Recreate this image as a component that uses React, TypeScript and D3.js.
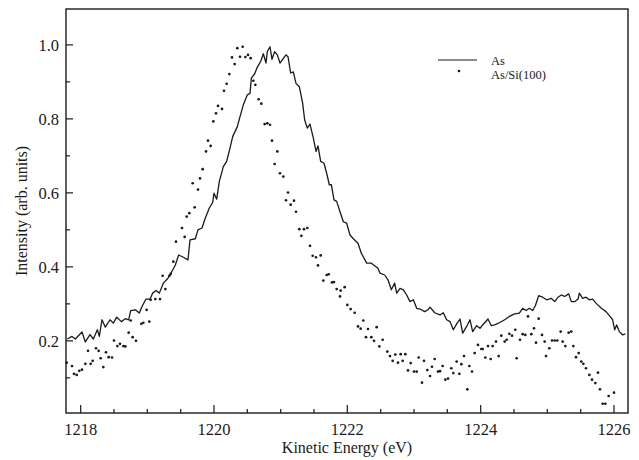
import * as d3 from 'd3'

// As (solid line): kinetic energy (eV) and intensity
const asEnergy = [
  1217.80, 1217.87, 1217.92, 1218.02, 1218.07, 1218.14, 1218.19, 1218.25, 1218.28, 1218.32,
  1218.37, 1218.44, 1218.49, 1218.54, 1218.61, 1218.67, 1218.72, 1218.75, 1218.82, 1218.88,
  1218.92, 1218.98, 1219.04, 1219.08, 1219.13, 1219.18, 1219.24, 1219.30, 1219.34, 1219.42,
  1219.47, 1219.54, 1219.61, 1219.64, 1219.72, 1219.76, 1219.82, 1219.87, 1219.93, 1219.98,
  1220.00, 1220.04, 1220.08, 1220.14, 1220.19, 1220.24, 1220.28, 1220.35, 1220.39, 1220.44,
  1220.50, 1220.54, 1220.56, 1220.61, 1220.65, 1220.70, 1220.74, 1220.78, 1220.80, 1220.84,
  1220.87, 1220.91, 1220.95, 1220.99, 1221.03, 1221.08, 1221.11, 1221.15, 1221.19, 1221.23,
  1221.28, 1221.33, 1221.36, 1221.40, 1221.44, 1221.49, 1221.53, 1221.56, 1221.60, 1221.65,
  1221.69, 1221.73, 1221.76, 1221.80, 1221.84, 1221.89, 1221.94, 1221.99, 1222.04, 1222.09,
  1222.16, 1222.21, 1222.29, 1222.36, 1222.46, 1222.49, 1222.56, 1222.61, 1222.66, 1222.71,
  1222.74, 1222.79, 1222.84, 1222.89, 1222.94, 1222.99, 1223.04, 1223.09, 1223.16, 1223.21,
  1223.24, 1223.31, 1223.39, 1223.44, 1223.49, 1223.54, 1223.59, 1223.64, 1223.69, 1223.73,
  1223.79, 1223.84, 1223.88, 1223.94, 1223.99, 1224.03, 1224.11, 1224.16, 1224.21, 1224.28,
  1224.36, 1224.43, 1224.51, 1224.58, 1224.63, 1224.68, 1224.73, 1224.78, 1224.82, 1224.87,
  1224.93, 1224.99, 1225.06, 1225.11, 1225.16, 1225.21, 1225.26, 1225.32, 1225.36, 1225.41,
  1225.46, 1225.48, 1225.53, 1225.58, 1225.63, 1225.68, 1225.73, 1225.81, 1225.88, 1225.94,
  1225.98, 1226.01, 1226.04, 1226.08, 1226.13, 1226.17,
]
const asIntensity = [
  0.205, 0.212, 0.205, 0.224, 0.197, 0.217, 0.205, 0.230, 0.212, 0.257,
  0.237, 0.257, 0.248, 0.264, 0.252, 0.260, 0.257, 0.282, 0.284, 0.275,
  0.293, 0.313, 0.313, 0.329, 0.336, 0.329, 0.356, 0.367, 0.378, 0.405,
  0.432, 0.426, 0.419, 0.473, 0.476, 0.500, 0.505, 0.532, 0.559, 0.574,
  0.599, 0.583, 0.631, 0.671, 0.685, 0.721, 0.752, 0.779, 0.806, 0.838,
  0.865, 0.869, 0.910, 0.922, 0.940, 0.955, 0.976, 0.951, 0.982, 0.995,
  0.961, 0.982, 0.973, 0.951, 0.961, 0.973, 0.968, 0.924, 0.927, 0.896,
  0.887, 0.842, 0.797, 0.775, 0.786, 0.748, 0.712, 0.727, 0.685, 0.680,
  0.653, 0.622, 0.622, 0.581, 0.577, 0.549, 0.522, 0.518, 0.486, 0.476,
  0.464, 0.437, 0.410, 0.410, 0.396, 0.383, 0.378, 0.365, 0.338, 0.356,
  0.329, 0.342, 0.338, 0.324, 0.306, 0.311, 0.288, 0.286, 0.279, 0.284,
  0.291, 0.276, 0.270, 0.276, 0.257, 0.252, 0.230, 0.246, 0.259, 0.221,
  0.239, 0.257, 0.225, 0.241, 0.234, 0.243, 0.259, 0.241, 0.243, 0.249,
  0.257, 0.266, 0.273, 0.275, 0.288, 0.282, 0.288, 0.282, 0.295, 0.322,
  0.318, 0.311, 0.315, 0.306, 0.318, 0.324, 0.320, 0.327, 0.306, 0.306,
  0.313, 0.329, 0.315, 0.318, 0.311, 0.313, 0.302, 0.288, 0.279, 0.266,
  0.257, 0.230, 0.243, 0.225, 0.216, 0.219,
]

// As/Si(100) (dots)
const asSiEnergy = [
  1217.79, 1217.87, 1217.90, 1217.94, 1217.98, 1218.02, 1218.07, 1218.11, 1218.15, 1218.18,
  1218.23, 1218.27, 1218.30, 1218.34, 1218.38, 1218.42, 1218.47, 1218.50, 1218.55, 1218.59,
  1218.64, 1218.67, 1218.72, 1218.75, 1218.78, 1218.83, 1218.91, 1218.94, 1218.99, 1219.03,
  1219.05, 1219.12, 1219.19, 1219.23, 1219.27, 1219.33, 1219.35, 1219.39, 1219.43, 1219.52,
  1219.56, 1219.59, 1219.63, 1219.68, 1219.71, 1219.76, 1219.79, 1219.83, 1219.88, 1219.91,
  1219.95, 1219.99, 1220.03, 1220.06, 1220.12, 1220.15, 1220.19, 1220.23, 1220.27, 1220.31,
  1220.35, 1220.39, 1220.43, 1220.47, 1220.51, 1220.55, 1220.59, 1220.62, 1220.67, 1220.71,
  1220.76, 1220.80, 1220.84, 1220.87, 1220.91, 1220.95, 1220.99, 1221.04, 1221.08, 1221.11,
  1221.15, 1221.20, 1221.23, 1221.28, 1221.31, 1221.35, 1221.40, 1221.44, 1221.48, 1221.53,
  1221.56, 1221.60, 1221.64, 1221.69, 1221.72, 1221.77, 1221.80, 1221.84, 1221.89, 1221.90,
  1221.96, 1222.00, 1222.05, 1222.11, 1222.16, 1222.20, 1222.24, 1222.28, 1222.31, 1222.36,
  1222.40, 1222.44, 1222.48, 1222.53, 1222.60, 1222.64, 1222.68, 1222.72, 1222.76, 1222.80,
  1222.83, 1222.87, 1222.91, 1222.95, 1223.00, 1223.04, 1223.07, 1223.12, 1223.15, 1223.20,
  1223.24, 1223.27, 1223.31, 1223.36, 1223.39, 1223.43, 1223.47, 1223.51, 1223.56, 1223.59,
  1223.64, 1223.68, 1223.71, 1223.75, 1223.80, 1223.83, 1223.87, 1223.91, 1223.96, 1224.01,
  1224.03, 1224.07, 1224.11, 1224.15, 1224.18, 1224.23, 1224.27, 1224.31, 1224.36, 1224.39,
  1224.43, 1224.47, 1224.52, 1224.54, 1224.59, 1224.63, 1224.67, 1224.71, 1224.76, 1224.80,
  1224.83, 1224.87, 1224.92, 1224.96, 1224.98, 1225.03, 1225.07, 1225.11, 1225.15, 1225.20,
  1225.23, 1225.27, 1225.32, 1225.36, 1225.39, 1225.43, 1225.47, 1225.51, 1225.54, 1225.58,
  1225.63, 1225.67, 1225.72, 1225.76, 1225.79, 1225.83, 1225.87, 1225.92, 1226.00,
]
const asSiIntensity = [
  0.141, 0.132, 0.111, 0.108, 0.119, 0.122, 0.138, 0.173, 0.138, 0.146,
  0.180, 0.173, 0.153, 0.129, 0.169, 0.156, 0.155, 0.201, 0.186, 0.192,
  0.186, 0.185, 0.222, 0.255, 0.210, 0.200, 0.246, 0.249, 0.284, 0.252,
  0.311, 0.313, 0.313, 0.376, 0.340, 0.376, 0.381, 0.414, 0.468, 0.505,
  0.481, 0.536, 0.545, 0.626, 0.561, 0.609, 0.639, 0.664, 0.712, 0.741,
  0.727, 0.793, 0.815, 0.835, 0.827, 0.876, 0.895, 0.921, 0.966, 0.948,
  0.991, 0.968, 0.995, 0.967, 0.973, 0.964, 0.903, 0.892, 0.853, 0.841,
  0.786, 0.788, 0.784, 0.741, 0.678, 0.712, 0.653, 0.644, 0.580, 0.601,
  0.568, 0.579, 0.549, 0.502, 0.484, 0.502, 0.505, 0.457, 0.430, 0.426,
  0.404, 0.431, 0.363, 0.378, 0.380, 0.358, 0.359, 0.340, 0.320, 0.336,
  0.345, 0.297, 0.286, 0.276, 0.239, 0.233, 0.255, 0.210, 0.232, 0.210,
  0.200, 0.237, 0.185, 0.203, 0.171, 0.159, 0.146, 0.163, 0.141, 0.164,
  0.146, 0.164, 0.120, 0.140, 0.117, 0.117, 0.155, 0.087, 0.146, 0.121,
  0.105, 0.130, 0.151, 0.117, 0.118, 0.132, 0.095, 0.098, 0.126, 0.113,
  0.144, 0.111, 0.137, 0.159, 0.069, 0.132, 0.117, 0.167, 0.189, 0.178,
  0.178, 0.155, 0.186, 0.151, 0.186, 0.198, 0.159, 0.214, 0.198, 0.203,
  0.219, 0.214, 0.230, 0.153, 0.203, 0.218, 0.216, 0.266, 0.218, 0.234,
  0.195, 0.260, 0.216, 0.198, 0.159, 0.180, 0.201, 0.201, 0.201, 0.225,
  0.198, 0.186, 0.222, 0.225, 0.186, 0.156, 0.167, 0.144, 0.138, 0.126,
  0.108, 0.095, 0.086, 0.114, 0.069, 0.030, 0.030, 0.051, 0.060,
]

const xTickLabels = [1218, 1220, 1222, 1224, 1226]
const yTickLabels = [0.2, 0.4, 0.6, 0.8, 1.0]
const seriesNames = ['As', 'As/Si(100)']

const W = 639
const H = 460
const margin = { left: 66, right: 11, top: 9, bottom: 47 }
const ink = '#1a1a1a'
const serif = "'Liberation Serif', 'Times New Roman', 'DejaVu Serif', serif"

export default function App() {
  const x = d3.scaleLinear()
    .domain([1217.78, 1226.21])
    .range([margin.left, W - margin.right])
  const y = d3.scaleLinear()
    .domain([0.005, 1.097])
    .range([H - margin.bottom, margin.top])

  const asPoints: [number, number][] = asEnergy.map((e, i) => [e, asIntensity[i]])
  const line = d3.line<[number, number]>()
    .x(d => x(d[0]))
    .y(d => y(d[1]))

  const xMinor = x.ticks(16)
  const yMinor = y.ticks(10).filter(v => v > 0.05)
  const x0 = margin.left
  const y0 = H - margin.bottom
  const txt = { fontFamily: serif }

  return (
    <svg width={W} height={H} style={{ position: 'absolute', left: 0, top: 0, background: '#fff' }}>
      {/* data */}
      <path d={line(asPoints) ?? ''} fill="none" stroke={ink} strokeWidth={1.3} strokeLinejoin="round" />
      {asSiEnergy.map((e, i) => (
        <circle key={i} cx={x(e)} cy={y(asSiIntensity[i])} r={1.35} fill={ink} />
      ))}

      {/* frame */}
      <rect x={x0} y={margin.top} width={W - margin.right - x0} height={y0 - margin.top}
        fill="none" stroke={ink} strokeWidth={1.4} />

      {/* x ticks */}
      {xMinor.map(t => (
        <line key={'xm' + t} x1={x(t)} x2={x(t)} y1={y0} y2={y0 - (t % 2 === 0 ? 8 : 4)}
          stroke={ink} strokeWidth={1.2} />
      ))}
      {xTickLabels.map(t => (
        <text key={'xl' + t} x={x(t)} y={y0 + 22} textAnchor="middle" fontSize={16.5} fill={ink} style={txt}>{t}</text>
      ))}

      {/* y ticks */}
      {yMinor.map(t => (
        <line key={'ym' + t} x1={x0} x2={x0 + (Math.round(t * 10) % 2 === 0 ? 7 : 4)} y1={y(t)} y2={y(t)}
          stroke={ink} strokeWidth={1.2} />
      ))}
      {yTickLabels.map(t => (
        <text key={'yl' + t} x={x0 - 7} y={y(t)} dy="0.35em" textAnchor="end" fontSize={16.5} fill={ink} style={txt}>
          {t.toFixed(1)}
        </text>
      ))}

      {/* axis titles */}
      <text x={(x0 + W - margin.right) / 2} y={H - 7} textAnchor="middle" fontSize={16} fill={ink} style={txt}>
        Kinetic Energy (eV)
      </text>
      <text transform={`translate(27, ${(margin.top + y0) / 2}) rotate(-90)`} textAnchor="middle"
        fontSize={16} fill={ink} style={txt}>
        Intensity (arb. units)
      </text>

      {/* legend */}
      <line x1={438} x2={477} y1={60} y2={60} stroke={ink} strokeWidth={1.2} />
      <text x={491} y={64.5} fontSize={12.5} fill={ink} style={txt}>{seriesNames[0]}</text>
      <circle cx={459} cy={71} r={1.35} fill={ink} />
      <text x={491} y={79} fontSize={12.5} fill={ink} style={txt}>{seriesNames[1]}</text>
    </svg>
  )
}
